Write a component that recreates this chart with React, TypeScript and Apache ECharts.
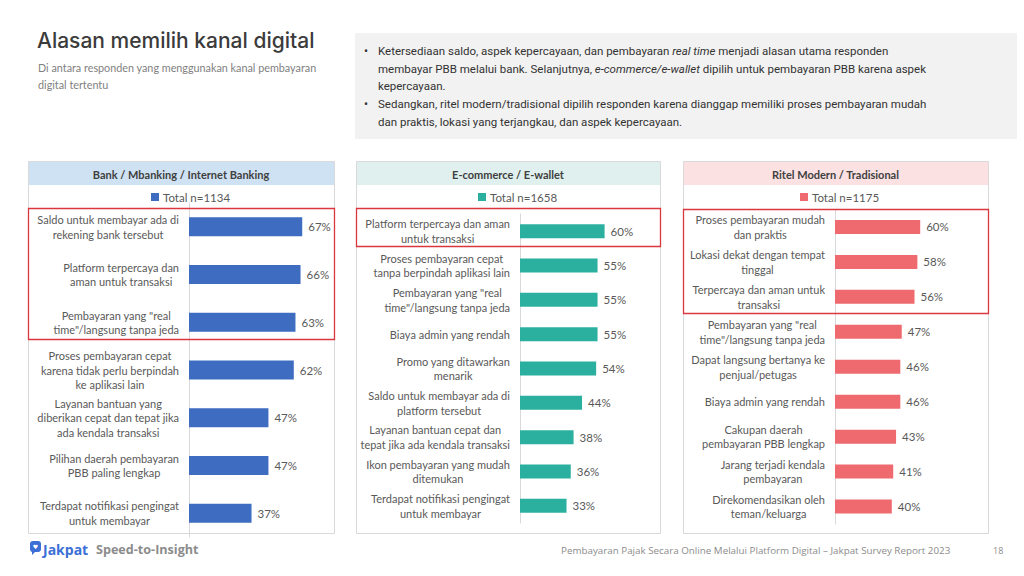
import React, { useEffect, useRef } from "react";
import * as echarts from "echarts";

const bankName = "Total n=1134";
const bankCats = [
  "Saldo untuk membayar ada di\nrekening bank tersebut",
  "Platform terpercaya dan\naman untuk transaksi",
  "Pembayaran yang \"real\ntime\"/langsung tanpa jeda",
  "Proses pembayaran cepat\nkarena tidak perlu berpindah\nke aplikasi lain",
  "Layanan bantuan yang\ndiberikan cepat dan tepat jika\nada kendala transaksi",
  "Pilihan daerah pembayaran\nPBB paling lengkap",
  "Terdapat notifikasi pengingat\nuntuk membayar",
];
const bankVals = [67, 66, 63, 62, 47, 47, 37];

const ewName = "Total n=1658";
const ewCats = [
  "Platform terpercaya dan aman\nuntuk transaksi",
  "Proses pembayaran cepat\ntanpa berpindah aplikasi lain",
  "Pembayaran yang \"real\ntime\"/langsung tanpa jeda",
  "Biaya admin yang rendah",
  "Promo yang ditawarkan\nmenarik",
  "Saldo untuk membayar ada di\nplatform tersebut",
  "Layanan bantuan cepat dan\ntepat jika ada kendala transaksi",
  "Ikon pembayaran yang mudah\nditemukan",
  "Terdapat notifikasi pengingat\nuntuk membayar",
];
const ewVals = [60, 55, 55, 55, 54, 44, 38, 36, 33];

const rtName = "Total n=1175";
const rtCats = [
  "Proses pembayaran mudah\ndan praktis",
  "Lokasi dekat dengan tempat\ntinggal",
  "Terpercaya dan aman untuk\ntransaksi",
  "Pembayaran yang \"real\ntime\"/langsung tanpa jeda",
  "Dapat langsung bertanya ke\npenjual/petugas",
  "Biaya admin yang rendah",
  "Cakupan daerah\npembayaran PBB lengkap",
  "Jarang terjadi kendala\npembayaran",
  "Direkomendasikan oleh\nteman/keluarga",
];
const rtVals = [60, 58, 56, 47, 46, 46, 43, 41, 40];

const panelTitles = ["Bank / Mbanking / Internet Banking", "E-commerce / E-wallet", "Ritel Modern / Tradisional"];
const title = "Alasan memilih kanal digital";
const subtitle = ["Di antara responden yang menggunakan kanal pembayaran", "digital tertentu"];
const footerText = "Pembayaran Pajak Secara Online Melalui Platform Digital \u2013 Jakpat Survey Report 2023";

const LABEL_FONT = "Lato";
const GRAY = "#595959";

echarts.graphic.registerShape(
  "jakpatLogo",
  echarts.graphic.extendPath(
    "M3 0 H8 A3 3 0 0 1 11 3 V8 A3 3 0 0 1 8 11 H5 L2 14 V11 A3 3 0 0 1 0 8 V3 A3 3 0 0 1 3 0 Z",
    {}
  )
);

export default function App() {
  const ref = useRef<HTMLDivElement>(null);
  useEffect(() => {
    if (!ref.current) return;
    const chart = echarts.init(ref.current, undefined, { renderer: "svg" });

    const panels = [
      { x: 28, w: 306, head: "#cfe2f3", color: "#3d6cc0", red: [208, 339] },
      { x: 356, w: 304, head: "#dff0ee", color: "#2bb0a0", red: [208, 246] },
      { x: 683, w: 305, head: "#fbe1e1", color: "#ef6a6e", red: [209, 313] },
    ];
    const grids = [
      { left: 189, top: 203, width: 169, height: 334 },
      { left: 520, top: 214, width: 141, height: 309 },
      { left: 835, top: 209.5, width: 142, height: 314.5 },
    ];
    const cats = [bankCats, ewCats, rtCats];
    const vals = [bankVals, ewVals, rtVals];
    const names = [bankName, ewName, rtName];
    const legendLeft = [146, 473, 795];

    const graphics: any[] = [];
    panels.forEach((p, i) => {
      graphics.push({
        type: "rect", z: -10,
        shape: { x: p.x + 0.5, y: 161.5, width: p.w, height: 372 },
        style: { fill: "#fff", stroke: "#d9d9d9", lineWidth: 1 },
      });
      graphics.push({
        type: "rect", z: -9,
        shape: { x: p.x + 1, y: 162, width: p.w - 1, height: 23 },
        style: { fill: p.head },
      });
      graphics.push({
        type: "text", z: 5, x: p.x + p.w / 2, y: 174,
        style: { text: panelTitles[i], font: `bold 11px ${LABEL_FONT}`, fill: "#404040", align: "center", verticalAlign: "middle" },
      });
      graphics.push({
        type: "rect", z: 50,
        shape: { x: p.x + 0.5, y: p.red[0] + 0.5, width: p.w, height: p.red[1] - p.red[0] },
        style: { fill: "none", stroke: "#d9363e", lineWidth: 1.3 },
      });
    });

    // header text
    graphics.push({ type: "text", x: 37, y: 40, style: { text: title, font: "500 21px Inter", fill: "#3b3b3b", verticalAlign: "middle" } });
    subtitle.forEach((s, i) =>
      graphics.push({ type: "text", x: 38, y: 67 + i * 17, style: { text: s, font: `10.8px ${LABEL_FONT}`, fill: "#7f7f7f", verticalAlign: "middle" } })
    );

    // gray info box
    graphics.push({ type: "rect", z: -10, shape: { x: 355, y: 33, width: 662, height: 106 }, style: { fill: "#f2f2f2" } });
    const boxLines = [
      "{n|Ketersediaan saldo, aspek kepercayaan, dan pembayaran }{i|real time}{n| menjadi alasan utama responden}",
      "{n|membayar PBB melalui bank. Selanjutnya, }{i|e-commerce/e-wallet}{n| dipilih untuk pembayaran PBB karena aspek}",
      "{n|kepercayaan.}",
      "{n|Sedangkan, ritel modern/tradisional dipilih responden karena dianggap memiliki proses pembayaran mudah}",
      "{n|dan praktis, lokasi yang terjangkau, dan aspek kepercayaan.}",
    ];
    const boxY = [51, 68.5, 86, 104, 121.5];
    boxLines.forEach((l, i) =>
      graphics.push({
        type: "text", x: 378, y: boxY[i],
        style: {
          text: l, verticalAlign: "middle",
          rich: {
            n: { fontSize: 11.5, fontFamily: "Roboto", fill: "#333" },
            i: { fontSize: 11.5, fontFamily: "Roboto", fontStyle: "italic", fill: "#333" },
          },
        },
      })
    );
    [51, 104].forEach((y) =>
      graphics.push({ type: "text", x: 364, y, style: { text: "\u2022", font: "12px Roboto", fill: "#333", verticalAlign: "middle" } })
    );

    // footer
    graphics.push({ type: "jakpatLogo", x: 30, y: 541, scaleX: 1, scaleY: 1, style: { fill: "#3b6fd6" } });
    graphics.push({ type: "text", x: 35.5, y: 546.5, style: { text: "\u2665", font: "6px 'DejaVu Sans'", fill: "#fff", align: "center", verticalAlign: "middle" } });
    graphics.push({ type: "text", x: 43, y: 549, style: { text: "Jakpat", font: "bold 14px 'Open Sans'", fill: "#3b6fd6", verticalAlign: "middle" } });
    graphics.push({ type: "text", x: 96, y: 549, style: { text: "Speed-to-Insight", font: "bold 12.6px 'Open Sans'", fill: "#8c8c8c", verticalAlign: "middle" } });
    graphics.push({ type: "text", x: 561, y: 550, style: { text: footerText, font: "9.8px 'Open Sans'", fill: "#8c8c8c", verticalAlign: "middle" } });
    graphics.push({ type: "text", x: 993, y: 550, style: { text: "18", font: "9px 'Open Sans'", fill: "#8c8c8c", verticalAlign: "middle" } });

    const option: any = {
      animation: false,
      backgroundColor: "#ffffff",
      graphic: graphics,
      legend: names.map((n, i) => ({
        data: [n],
        left: legendLeft[i],
        top: 186,
        itemWidth: 8,
        itemHeight: 8,
        itemGap: 5,
        icon: "rect",
        selectedMode: false,
        textStyle: { fontFamily: LABEL_FONT, fontSize: 11.5, color: GRAY, padding: [0, 0, 0, -1] },
      })),
      grid: grids.map((g) => ({ ...g, containLabel: false })),
      xAxis: grids.map((_, i) => ({
        type: "value", gridIndex: i, min: 0, max: 100, show: false,
      })),
      yAxis: cats.map((c, i) => ({
        type: "category", gridIndex: i, data: c, inverse: true,
        axisLine: { show: true, lineStyle: { color: "#d9d9d9", width: 1 } },
        axisTick: { show: false },
        splitLine: { show: false },
        axisLabel: {
          margin: 10,
          interval: 0,
          formatter: (v: string) => v.split("\n").map((l) => `{c|${l}}`).join("\n"),
          rich: {
            c: { align: "center", fontFamily: LABEL_FONT, fontSize: 11, color: GRAY, lineHeight: 14.5 },
          },
        },
      })),
      series: vals.map((v, i) => ({
        type: "bar", name: names[i], xAxisIndex: i, yAxisIndex: i, data: v,
        barWidth: i === 0 ? 19 : 14,
        itemStyle: { color: panels[i].color },
        label: {
          show: true, position: "right", distance: 6, formatter: "{c}%",
          fontFamily: LABEL_FONT, fontSize: 11.5, color: GRAY,
        },
      })),
    };
    chart.setOption(option);
    return () => chart.dispose();
  }, []);
  return <div ref={ref} style={{ position: "absolute", left: 0, top: 0, width: 1024, height: 576 }} />;
}
